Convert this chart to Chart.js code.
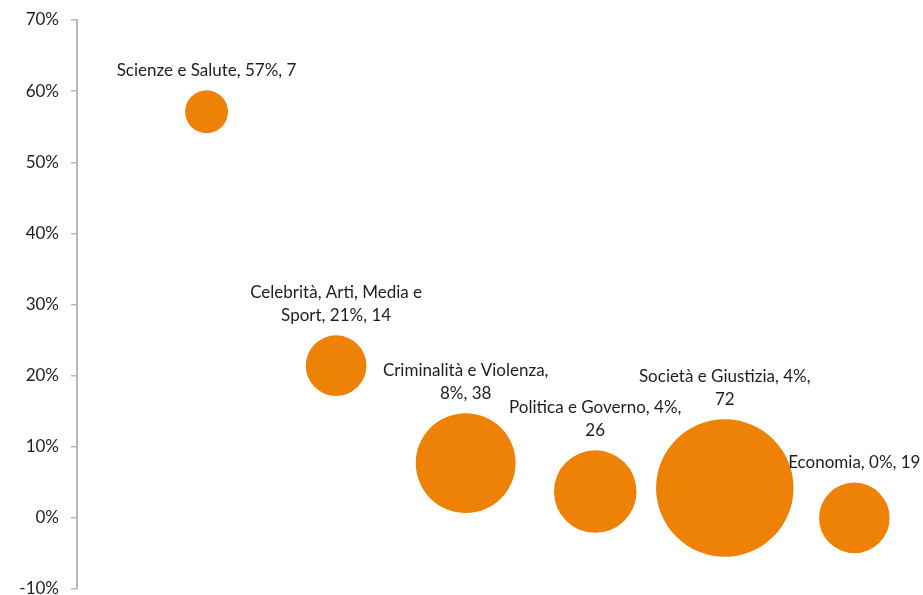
<!DOCTYPE html>
<html>
<head>
<meta charset="utf-8">
<script src="https://cdn.jsdelivr.net/npm/chart.js@4"></script>
<style>
  html, body { margin: 0; padding: 0; background: #fff; overflow: hidden; }
  #box { width: 923px; height: 595px; position: relative; }
</style>
</head>
<body>
<div id="box"><canvas id="chart"></canvas></div>
<script>
// Categories, share (%) on the y axis, and count (bubble size)
const categories = [
  'Scienze e Salute',
  'Celebrità, Arti, Media e Sport',
  'Criminalità e Violenza',
  'Politica e Governo',
  'Società e Giustizia',
  'Economia'
];
const shares = [57.1, 21.4, 7.7, 3.7, 4.2, 0];
const counts = [7, 14, 38, 26, 72, 19];
const yTicks = [-10, 0, 10, 20, 30, 40, 50, 60, 70];

const bubbleColor = '#ED8207';
const labelFont = '17px Lato';

// bubble area proportional to count
function radiusFor(count) {
  return 8.1 * Math.sqrt(count);
}

function wrapText(ctx, text, maxWidth) {
  const words = text.split(' ');
  const lines = [];
  let line = '';
  words.forEach(w => {
    const test = line ? line + ' ' + w : w;
    if (line && ctx.measureText(test).width > maxWidth) {
      lines.push(line);
      line = w;
    } else {
      line = test;
    }
  });
  if (line) lines.push(line);
  return lines;
}

// Draws "name, xx%, n" above each bubble
const bubbleLabels = {
  id: 'bubbleLabels',
  afterDatasetsDraw(chart) {
    const ctx = chart.ctx;
    const meta = chart.getDatasetMeta(0);
    ctx.save();
    ctx.font = labelFont;
    ctx.fillStyle = '#1e1e1e';
    ctx.textAlign = 'center';
    ctx.textBaseline = 'middle';
    meta.data.forEach((el, i) => {
      const text = categories[i] + ', ' + Math.round(shares[i]) + '%, ' + counts[i];
      const lines = wrapText(ctx, text, 188);
      const top = el.y - radiusFor(counts[i]);
      const lastY = top - 20;
      lines.forEach((ln, j) => {
        ctx.fillText(ln, el.x, lastY - (lines.length - 1 - j) * 22.5);
      });
    });
    ctx.restore();
  }
};

const points = categories.map((c, i) => ({ x: i + 1, y: shares[i], r: radiusFor(counts[i]) }));

new Chart(document.getElementById('chart'), {
  type: 'bubble',
  data: {
    datasets: [{
      data: points,
      backgroundColor: bubbleColor,
      borderColor: bubbleColor,
      borderWidth: 0,
      hoverRadius: 0
    }]
  },
  options: {
    responsive: true,
    maintainAspectRatio: false,
    animation: false,
    layout: { autoPadding: false, padding: { left: 0, top: 20, right: 0, bottom: 6 } },
    plugins: {
      legend: { display: false },
      tooltip: { enabled: false }
    },
    scales: {
      x: {
        type: 'linear',
        display: false,
        min: 0,
        max: 6.53
      },
      y: {
        min: -10,
        max: 70,
        afterBuildTicks(scale) {
          scale.ticks = yTicks.map(v => ({ value: v }));
        },
        afterFit(scale) {
          scale.width = 77;
          scale.paddingTop = 0;
          scale.paddingBottom = 0;
        },
        border: { display: true, color: '#b8b8b8', width: 2 },
        grid: {
          drawOnChartArea: false,
          drawTicks: true,
          tickLength: 6,
          color: '#b8b8b8',
          lineWidth: 1.5
        },
        ticks: {
          padding: 12,
          color: '#1e1e1e',
          font: { family: 'Lato', size: 17 },
          callback: v => v + '%'
        }
      }
    }
  },
  plugins: [bubbleLabels]
});
</script>
</body>
</html>
